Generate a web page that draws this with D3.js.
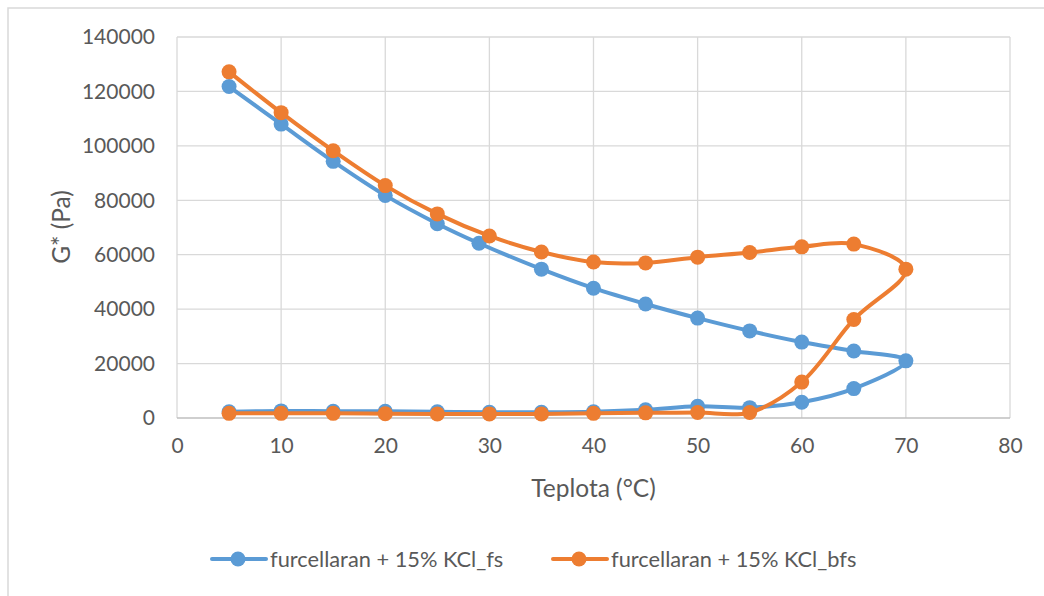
<!DOCTYPE html>
<html><head><meta charset="utf-8">
<script src="https://cdn.jsdelivr.net/npm/d3@7"></script>
<style>body{margin:0;background:#fff}svg{display:block}</style>
</head><body><svg id="c" width="1044" height="596"></svg>
<script>
// Data: temperature path (°C) and G* (Pa); each series is a heating/cooling loop
const fsTemp = [5,10,15,20,25,29,35,40,45,50,55,60,65,70,65,60,55,50,45,40,35,30,25,20,15,10,5];
const fsG    = [121800,108000,94300,81800,71400,64200,54700,47700,41900,36700,32000,27900,24600,21000,
                10800,5800,3800,4300,3000,2300,2100,2100,2300,2500,2500,2600,2300];
const bfsTemp = [5,10,15,20,25,30,35,40,45,50,55,60,65,70,65,60,55,50,45,40,35,30,25,20,15,10,5];
const bfsG    = [127200,112200,98200,85400,75000,66900,61000,57300,57000,59100,60800,62900,63900,54700,
                 36200,13200,2000,2000,1900,1700,1500,1500,1500,1600,1700,1700,1700];
const seriesNames = ["furcellaran + 15% KCl_fs","furcellaran + 15% KCl_bfs"];
const seriesColors = ["#5b9bd5","#ed7d31"];
const xTicks = [0,10,20,30,40,50,60,70,80];
const yTicks = [0,20000,40000,60000,80000,100000,120000,140000];

const svg = d3.select("#c");
const font = "Lato, 'Liberation Sans', sans-serif";
const L=177,R=1010,T=37,B=418;
const x = d3.scaleLinear().domain([0,80]).range([L,R]);
const y = d3.scaleLinear().domain([0,140000]).range([B,T]);

// chart border
svg.append("rect").attr("x",8).attr("y",8).attr("width",1100).attr("height",700)
  .attr("fill","none").attr("stroke","#d9d9d9").attr("stroke-width",1.5);

// gridlines
const g = svg.append("g");
g.selectAll(".hg").data(yTicks.slice(1)).join("line")
  .attr("x1",L).attr("x2",R).attr("y1",d=>y(d)).attr("y2",d=>y(d))
  .attr("stroke","#d9d9d9").attr("stroke-width",1.3);
g.selectAll(".vg").data(xTicks).join("line")
  .attr("x1",d=>x(d)).attr("x2",d=>x(d)).attr("y1",T).attr("y2",B)
  .attr("stroke","#d9d9d9").attr("stroke-width",1.3);
// x axis line
svg.append("line").attr("x1",L).attr("x2",R).attr("y1",B).attr("y2",B)
  .attr("stroke","#bfbfbf").attr("stroke-width",1.5);

// tick labels via axes
const xa = svg.append("g").attr("transform",`translate(0,${B})`)
  .call(d3.axisBottom(x).tickValues(xTicks).tickSize(0).tickPadding(20).tickFormat(d3.format("d")));
xa.select(".domain").remove();
xa.selectAll("text").attr("font-family",font).attr("font-size",21).attr("fill","#595959");
const ya = svg.append("g").attr("transform",`translate(${L},0)`)
  .call(d3.axisLeft(y).tickValues(yTicks).tickSize(0).tickPadding(22).tickFormat(d3.format("d")));
ya.select(".domain").remove();
ya.selectAll("text").attr("font-family",font).attr("font-size",21).attr("fill","#595959");

// axis titles
svg.append("text").attr("x",(L+R)/2).attr("y",488).attr("dy","0.35em").attr("text-anchor","middle")
  .attr("font-family",font).attr("font-size",24.5).attr("fill","#595959").text("Teplota (°C)");
svg.append("text").attr("transform","translate(61,227) rotate(-90)").attr("dy","0.35em").attr("text-anchor","middle")
  .attr("font-family",font).attr("font-size",24.5).attr("fill","#595959").text("G* (Pa)");

// series
const series = [
  fsTemp.map((t,i)=>({t, v:fsG[i]})),
  bfsTemp.map((t,i)=>({t, v:bfsG[i]}))
];
const line = d3.line().x(d=>x(d.t)).y(d=>y(d.v)).curve(d3.curveCatmullRom.alpha(0.5));
series.forEach((s,i)=>{
  const sg = svg.append("g");
  sg.append("path").datum(s).attr("d",line).attr("fill","none")
    .attr("stroke",seriesColors[i]).attr("stroke-width",4).attr("stroke-linejoin","round").attr("stroke-linecap","round");
  sg.selectAll("circle").data(s).join("circle")
    .attr("cx",d=>x(d.t)).attr("cy",d=>y(d.v)).attr("r",7.5).attr("fill",seriesColors[i]);
});

// legend
const legX = [212,553], legY = 559;
seriesNames.forEach((n,i)=>{
  const lg = svg.append("g").attr("transform",`translate(${legX[i]},${legY})`);
  lg.append("line").attr("x1",0).attr("x2",54).attr("y1",0).attr("y2",0)
    .attr("stroke",seriesColors[i]).attr("stroke-width",4).attr("stroke-linecap","round");
  lg.append("circle").attr("cx",26).attr("cy",0).attr("r",7.5).attr("fill",seriesColors[i]);
  lg.append("text").attr("x",58).attr("y",0).attr("dy","0.35em")
    .attr("font-family",font).attr("font-size",21.8).attr("fill","#595959").text(n);
});
</script></body></html>
